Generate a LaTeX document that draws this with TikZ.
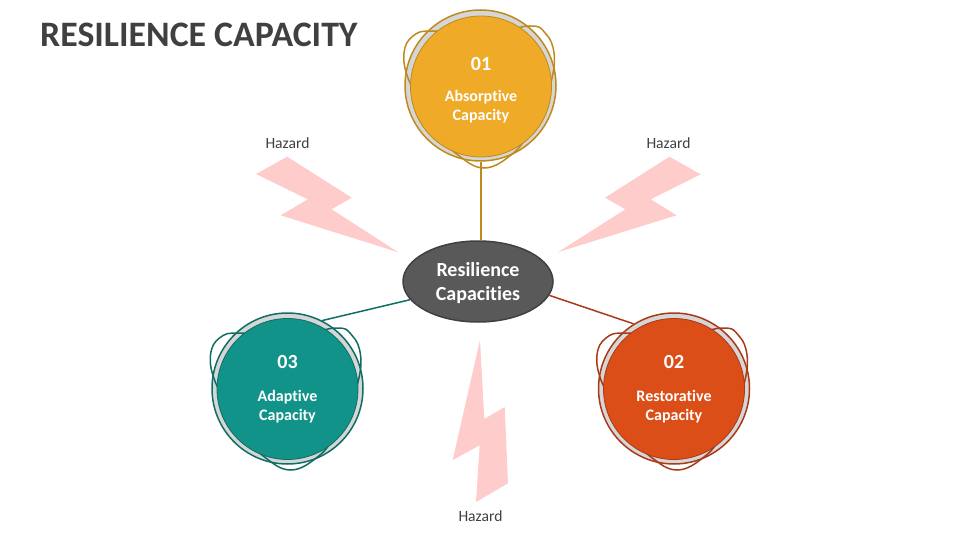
\documentclass[tikz,border=0pt]{standalone}
\usepackage{fontspec}
\usepackage{xcolor}
\usetikzlibrary{shapes.geometric}
\setmainfont{Carlito}[Ligatures=NoCommon]
\definecolor{amber}{HTML}{EFAA27}
\definecolor{amberline}{HTML}{BE8A1C}
\definecolor{teal1}{HTML}{12938A}
\definecolor{tealline}{HTML}{0F6E64}
\definecolor{rust}{HTML}{DC4E18}
\definecolor{rustline}{HTML}{A83A18}
\definecolor{boltpink}{HTML}{FFCCCC}
\definecolor{ringgray}{HTML}{D6D6D6}
\definecolor{inktext}{HTML}{404040}
\newcommand{\fs}[1]{\fontsize{#1}{#1}\selectfont}
\newcommand{\capblob}[2]{\draw[line width=1.5pt,draw=#2,shift={#1}] plot[smooth cycle,tension=0.7] coordinates {(0,-50) (-48,-55) (-68,-50) (-77,-33) (-73,-8) (-60,15) (-40,50) (-23,69) (3,82) (30,69) (47,48) (62,15) (71,-8) (73,-33) (65,-52) (48,-60)};}
\tikzset{
  ringnode/.style={circle,fill=ringgray,line width=1.5pt,minimum size=151pt,inner sep=0pt},
  capnode/.style={circle,line width=0.8pt,minimum size=141pt,inner sep=0pt},
  numtext/.style={text=white,font=\fs{20}\bfseries},
  captext/.style={text=white,font=\fs{16}\bfseries,align=center,text depth=0pt},
  hazardtext/.style={text=inktext,font=\fs{15.6}},
  bolt/.style={fill=boltpink,draw=none},
  spoke/.style={line width=1.5pt}
}
\begin{document}
\begin{tikzpicture}[x=1pt,y=-1pt]
\useasboundingbox (0,0) rectangle (960,540);
\node[text=inktext,font=\fs{35.8}\bfseries,anchor=west,inner sep=0pt] (title) at (40,35) {RESILIENCE CAPACITY};
% hazards
\fill[bolt] (287.3,156.7)--(351.7,197.7)--(331.7,209.3)--(398.3,252.3)--(280.7,215.3)--(307.7,199.3)--(256,174)--cycle;
\fill[bolt] (669.3,156.7)--(700.7,174.3)--(650.7,199.3)--(676.7,215.3)--(558.3,252)--(625.3,209.3)--(605,197.7)--cycle;
\fill[bolt] (480,340)--(484.3,419)--(504.7,407)--(508,483.3)--(476,502)--(479.7,445.3)--(452.7,460)--cycle;
\node[hazardtext] (hz1) at (287.5,143) {Hazard};
\node[hazardtext] (hz2) at (668.5,143) {Hazard};
\node[hazardtext] (hz3) at (480.5,516) {Hazard};
% rings
\node[ringnode,draw=amberline] (absring) at (480.5,85.5) {};
\node[ringnode,draw=rustline] (resring) at (674,388.5) {};
\node[ringnode,draw=tealline] (adaring) at (287.5,388.5) {};
\capblob{(481,86)}{amberline}
\capblob{(674,388)}{rustline}
\capblob{(287.5,388)}{tealline}
% hub
\node[ellipse,fill=black!65,draw=black!75,line width=1.5pt,minimum width=150pt,minimum height=81pt,inner sep=0pt] (hub) at (478,281.5) {};
\node[text=white,font=\fs{20}\bfseries,align=center] (hubtext) at (478,283.5) {Resilience\\[4pt]Capacities};
\draw[spoke,draw=amberline] (absring.south -| 481,0) -- (481,0 |- hub.north);
\draw[spoke,draw=rustline] (hub.-11) -- (resring.122);
\draw[spoke,draw=tealline] (hub.195) -- (adaring.63);
% circles
\node[capnode,fill=amber,draw=amberline] (abs) at (481,86.5) {};
\node[capnode,fill=rust,draw=rustline] (res) at (674,389) {};
\node[capnode,fill=teal1,draw=tealline] (ada) at (287.5,389) {};
\node[numtext] (absnum) at (481,64) {01};
\node[numtext] (resnum) at (674,362) {02};
\node[numtext] (adanum) at (287.5,362) {03};
\node[captext] (abstext) at (481,105.5) {Absorptive\\[3pt]Capacity};
\node[captext] (restext) at (674,405.5) {Restorative\\[3pt]Capacity};
\node[captext] (adatext) at (287.5,405.5) {Adaptive\\[3pt]Capacity};
\end{tikzpicture}
\end{document}
